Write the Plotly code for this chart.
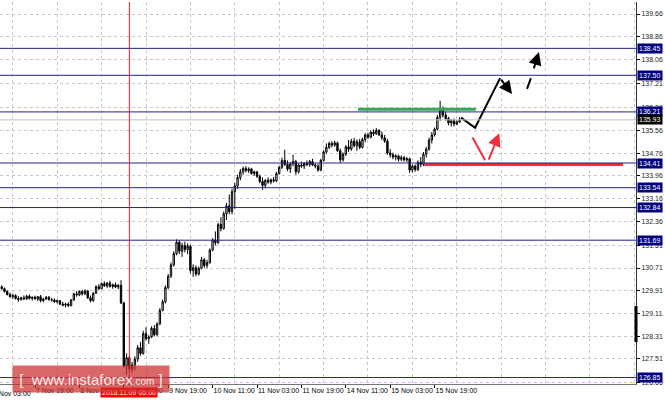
import plotly.graph_objects as go

# ---------------- data ----------------
opens = [
    130.05, 129.98, 129.88, 129.78, 129.70, 129.74, 129.64, 129.60, 129.66, 129.62,
    129.72, 129.64, 129.68, 129.62, 129.70, 129.56, 129.62, 129.68, 129.60, 129.58,
    129.52, 129.56, 129.44, 129.40, 129.44, 129.38, 129.58, 129.80, 129.76, 129.88,
    129.80, 129.90, 129.66, 129.56, 129.82, 130.05, 129.98, 130.16, 130.08, 130.18,
    130.06, 130.12, 130.04, 130.10, 129.48, 127.26, 127.55, 127.15, 127.30, 127.50,
    127.90, 127.70, 128.40, 128.22, 128.28, 128.58, 128.36, 128.74, 129.22, 129.52,
    130.02, 130.42, 130.82, 131.22, 131.62, 131.30, 131.50, 131.36, 131.48, 130.62,
    130.72, 130.50, 130.70, 131.00, 130.80, 130.90, 131.34, 131.70, 131.60, 132.24,
    132.10, 132.62, 132.90, 132.70, 133.40, 133.60, 133.90, 134.10, 134.22, 134.14,
    134.20, 134.04, 134.10, 133.94, 133.76, 133.62, 133.80, 133.74, 133.82, 133.78,
    134.04, 134.26, 134.50, 134.36, 134.20, 134.38, 134.46, 134.10, 134.34, 134.30,
    134.40, 134.36, 134.46, 134.34, 134.30, 134.16, 134.50, 134.80, 134.96, 135.10,
    135.04, 135.12, 134.84, 134.52, 134.72, 134.98, 134.90, 135.18, 135.02, 135.16,
    134.96, 135.24, 135.40, 135.32, 135.50, 135.44, 135.56, 135.40, 135.30, 135.18,
    134.76, 134.70, 134.62, 134.66, 134.54, 134.60, 134.52, 134.56, 134.16, 134.30,
    134.18, 134.44, 134.36, 134.72, 134.90, 135.22, 135.40, 135.60, 136.02, 136.30,
    136.10, 135.98, 135.82, 135.90, 135.78, 135.86,
]
highs = [
    130.10, 130.02, 129.92, 129.84, 129.80, 129.78, 129.72, 129.70, 129.74, 129.76,
    129.78, 129.70, 129.74, 129.72, 129.76, 129.66, 129.72, 129.72, 129.66, 129.64,
    129.60, 129.58, 129.52, 129.48, 129.50, 129.62, 129.84, 129.90, 129.92, 129.94,
    129.96, 129.94, 129.74, 129.86, 130.10, 130.14, 130.20, 130.24, 130.22, 130.26,
    130.16, 130.20, 130.14, 130.28, 129.52, 127.70, 127.62, 127.40, 127.60, 128.00,
    128.10, 128.50, 128.62, 128.34, 128.66, 128.70, 128.80, 129.30, 129.60, 130.10,
    130.50, 130.90, 131.30, 131.72, 131.70, 131.60, 131.64, 131.58, 131.52, 130.84,
    130.80, 130.76, 131.10, 131.06, 131.00, 131.40, 131.76, 132.00, 132.30, 132.50,
    132.70, 133.00, 133.30, 133.50, 133.70, 134.00, 134.20, 134.28, 134.30, 134.26,
    134.24, 134.14, 134.12, 134.00, 133.90, 133.84, 133.90, 133.86, 133.92, 134.10,
    134.30, 134.60, 134.88, 134.50, 134.44, 134.70, 134.52, 134.40, 134.46, 134.44,
    134.50, 134.52, 134.56, 134.40, 134.38, 134.56, 134.86, 135.10, 135.16, 135.18,
    135.20, 135.16, 134.92, 134.78, 135.04, 135.22, 135.26, 135.30, 135.24, 135.26,
    135.30, 135.46, 135.48, 135.56, 135.60, 135.64, 135.60, 135.52, 135.40, 135.26,
    134.90, 134.78, 134.72, 134.70, 134.68, 134.66, 134.62, 134.60, 134.36, 134.36,
    134.50, 134.62, 134.80, 134.98, 135.30, 135.50, 135.66, 136.10, 136.60, 136.40,
    136.22, 136.04, 135.96, 135.98, 135.92, 136.02,
]
lows = [
    129.95, 129.85, 129.74, 129.66, 129.62, 129.60, 129.52, 129.56, 129.58, 129.58,
    129.60, 129.56, 129.60, 129.55, 129.50, 129.50, 129.58, 129.56, 129.52, 129.48,
    129.46, 129.40, 129.36, 129.32, 129.34, 129.36, 129.56, 129.70, 129.72, 129.74,
    129.76, 129.62, 129.50, 129.52, 129.80, 129.94, 129.96, 130.04, 130.00, 130.02,
    129.98, 130.00, 129.96, 129.44, 127.20, 126.95, 127.05, 127.02, 127.10, 127.40,
    127.62, 127.66, 128.16, 128.04, 128.24, 128.30, 128.32, 128.70, 129.18, 129.46,
    129.96, 130.36, 130.76, 131.16, 131.20, 131.10, 131.26, 131.20, 130.52, 130.40,
    130.42, 130.44, 130.66, 130.72, 130.70, 130.86, 131.30, 131.50, 131.56, 132.00,
    132.06, 132.40, 132.60, 132.60, 132.80, 133.50, 133.80, 134.00, 134.08, 134.06,
    134.00, 133.96, 133.88, 133.70, 133.46, 133.52, 133.68, 133.66, 133.72, 133.74,
    134.00, 134.20, 134.30, 134.12, 134.06, 134.30, 134.00, 134.04, 134.24, 134.20,
    134.30, 134.28, 134.30, 134.22, 134.10, 134.12, 134.46, 134.74, 134.90, 134.96,
    134.98, 134.80, 134.42, 134.46, 134.66, 134.80, 134.84, 134.96, 134.84, 134.90,
    134.92, 135.14, 135.26, 135.28, 135.36, 135.40, 135.36, 135.22, 135.12, 134.70,
    134.60, 134.54, 134.50, 134.46, 134.48, 134.46, 134.44, 134.06, 134.08, 134.10,
    134.12, 134.26, 134.30, 134.60, 134.84, 135.10, 135.34, 135.56, 135.90, 136.02,
    135.90, 135.74, 135.70, 135.70, 135.74, 135.82,
]
closes = [
    129.98, 129.88, 129.78, 129.70, 129.74, 129.64, 129.60, 129.66, 129.62, 129.72,
    129.64, 129.68, 129.62, 129.70, 129.56, 129.62, 129.68, 129.60, 129.58, 129.52,
    129.56, 129.44, 129.40, 129.44, 129.38, 129.58, 129.80, 129.76, 129.88, 129.80,
    129.90, 129.66, 129.56, 129.82, 130.05, 129.98, 130.16, 130.08, 130.18, 130.06,
    130.12, 130.04, 130.10, 129.48, 127.26, 127.55, 127.15, 127.30, 127.50, 127.90,
    127.70, 128.40, 128.22, 128.28, 128.58, 128.36, 128.74, 129.22, 129.52, 130.02,
    130.42, 130.82, 131.22, 131.62, 131.30, 131.50, 131.36, 131.48, 130.62, 130.72,
    130.50, 130.70, 131.00, 130.80, 130.90, 131.34, 131.70, 131.60, 132.24, 132.10,
    132.62, 132.90, 132.70, 133.40, 133.60, 133.90, 134.10, 134.22, 134.14, 134.20,
    134.04, 134.10, 133.94, 133.76, 133.62, 133.80, 133.74, 133.82, 133.78, 134.04,
    134.26, 134.50, 134.36, 134.20, 134.38, 134.46, 134.10, 134.34, 134.30, 134.40,
    134.36, 134.46, 134.34, 134.30, 134.16, 134.50, 134.80, 134.96, 135.10, 135.04,
    135.12, 134.84, 134.52, 134.72, 134.98, 134.90, 135.18, 135.02, 135.16, 134.96,
    135.24, 135.40, 135.32, 135.50, 135.44, 135.56, 135.40, 135.30, 135.18, 134.76,
    134.70, 134.62, 134.66, 134.54, 134.60, 134.52, 134.56, 134.16, 134.30, 134.18,
    134.44, 134.36, 134.72, 134.90, 135.22, 135.40, 135.60, 136.02, 136.30, 136.10,
    135.98, 135.82, 135.90, 135.78, 135.86, 135.93,
]
bar_index = list(range(len(closes)))

y_tick_values = [139.66, 138.86, 138.06, 137.21, 136.36, 135.56, 134.76, 133.96, 133.16,
                 132.36, 131.51, 130.71, 129.91, 129.11, 128.31, 127.51, 126.66]
x_tick_bars = [12, 28, 44, 60, 76, 92, 108, 124, 140, 156]
x_tick_labels = ["7 Nov 19:00", "8 Nov 11:00", "9 Nov 03:00", "9 Nov 19:00", "10 Nov 11:00",
                 "11 Nov 03:00", "11 Nov 19:00", "14 Nov 11:00", "15 Nov 03:00", "15 Nov 19:00"]
clipped_label_bar = -4
clipped_label = "7 Nov 03:00"
grid_bars = list(range(4, 229, 16))

levels = [138.45, 137.50, 136.21, 134.41, 133.54, 132.84, 131.69, 126.85]
current_price = 135.93
marked_bar = 46
marked_label = "2018.11.09 05:00"

resistance_x = [128.4, 170.9]
resistance_y = [136.30, 136.30]
support_x = [152.2, 223.9]
support_y = [134.36, 134.36]

forecast_main_x = [165.5, 170.6, 179.6, 183.9]
forecast_main_y = [136.01, 135.65, 137.40, 136.84]
forecast_dash_x = [189.3, 190.7, 191.6, 193.6]
forecast_dash_y = [137.02, 137.40, 137.69, 138.32]
forecast_alt_x = [169.7, 174.2, 175.3, 179.3]
forecast_alt_y = [135.31, 134.51, 134.48, 135.46]

X_RANGE = [-0.613, 228.58]
Y_RANGE = [126.623, 140.083]

NAVY = "#22228c"
FONT = "Liberation Sans, Arial, sans-serif"

fig = go.Figure()
fig.add_trace(go.Candlestick(
    x=bar_index, open=opens, high=highs, low=lows, close=closes,
    increasing=dict(line=dict(color="black", width=1), fillcolor="white"),
    decreasing=dict(line=dict(color="black", width=1), fillcolor="black"),
    whiskerwidth=0, hoverinfo="skip", showlegend=False,
))

fig.add_trace(go.Scatter(x=resistance_x, y=resistance_y, mode="lines",
                         line=dict(color="#3aa655", width=3), hoverinfo="skip"))
fig.add_trace(go.Scatter(x=support_x, y=support_y, mode="lines",
                         line=dict(color="#f0303c", width=3), hoverinfo="skip"))
fig.add_trace(go.Scatter(x=forecast_main_x[:3], y=forecast_main_y[:3], mode="lines",
                         line=dict(color="black", width=2), hoverinfo="skip"))
fig.add_trace(go.Scatter(x=forecast_dash_x[:2], y=forecast_dash_y[:2], mode="lines",
                         line=dict(color="black", width=2), hoverinfo="skip"))
fig.add_trace(go.Scatter(x=forecast_alt_x[:2], y=forecast_alt_y[:2], mode="lines",
                         line=dict(color="#f0303c", width=2), hoverinfo="skip"))

arrow_common = dict(xref="x", yref="y", axref="x", ayref="y", text="", showarrow=True,
                    arrowhead=2, arrowsize=1.3, arrowwidth=2, standoff=0)
fig.add_annotation(x=forecast_main_x[3], y=forecast_main_y[3], ax=forecast_main_x[2],
                   ay=forecast_main_y[2], arrowcolor="black", **arrow_common)
fig.add_annotation(x=forecast_dash_x[3], y=forecast_dash_y[3], ax=forecast_dash_x[2],
                   ay=forecast_dash_y[2], arrowcolor="black", **arrow_common)
fig.add_annotation(x=forecast_alt_x[3], y=forecast_alt_y[3], ax=forecast_alt_x[2],
                   ay=forecast_alt_y[2], arrowcolor="#f0303c", **arrow_common)

for v in levels:
    fig.add_shape(type="line", xref="paper", x0=0, x1=1, yref="y", y0=v, y1=v,
                  line=dict(color=NAVY, width=1))
    fig.add_annotation(xref="paper", x=1, xanchor="left", xshift=1, yref="y", y=v,
                       yanchor="middle", text=f"{v:.2f}", showarrow=False,
                       bgcolor="#000080", font=dict(color="white", size=7, family=FONT),
                       borderpad=1)
fig.add_shape(type="line", xref="paper", x0=0, x1=1, yref="y", y0=current_price,
              y1=current_price, line=dict(color="#c0c0c0", width=1))
fig.add_annotation(xref="paper", x=1, xanchor="left", xshift=1, yref="y", y=current_price,
                   yanchor="middle", text=f"{current_price:.2f}", showarrow=False,
                   bgcolor="black", font=dict(color="white", size=7, family=FONT),
                   borderpad=1)

fig.add_shape(type="line", xref="x", x0=marked_bar, x1=marked_bar, yref="paper", y0=0, y1=1,
              line=dict(color="#e02020", width=1))
fig.add_annotation(xref="x", x=marked_bar, yref="paper", y=0, yanchor="top", yshift=-3,
                   text=marked_label, showarrow=False, bgcolor="#ff0000",
                   font=dict(color="white", size=7, family=FONT), borderpad=1)

fig.add_shape(type="line", xref="paper", x0=1, x1=1, yref="y", y0=128.10, y1=129.37,
              line=dict(color="black", width=3))

px_per_bar = 636 / (X_RANGE[1] - X_RANGE[0])
fig.add_annotation(xref="paper", x=0, xanchor="left",
                   xshift=(clipped_label_bar - X_RANGE[0]) * px_per_bar,
                   yref="paper", y=0, yanchor="top", yshift=-4, text=clipped_label,
                   showarrow=False, font=dict(color="black", size=7, family=FONT))

fig.add_annotation(xref="paper", x=0.143, yref="paper", y=0.014, xanchor="center",
                   yanchor="middle",
                   text="[  www.instaforex<span style='font-size:10px'>.com</span> ]",
                   showarrow=False, bgcolor="rgba(205,45,45,0.72)",
                   font=dict(color="rgba(255,255,255,0.9)", size=15, family=FONT),
                   width=156, height=26, borderpad=0)

fig.update_layout(
    width=665, height=401, margin=dict(l=0, r=29, t=2, b=17, autoexpand=False),
    paper_bgcolor="white", plot_bgcolor="white", showlegend=False,
    font=dict(family=FONT, size=7, color="black"),
)
fig.update_xaxes(
    range=X_RANGE, rangeslider_visible=False, automargin=False, tickangle=0,
    tickmode="array", tickvals=x_tick_bars,
    ticktext=x_tick_labels, ticks="outside", ticklen=3, tickcolor="black",
    ticklabelposition="outside right", showgrid=False, showline=True, linecolor="#777",
    linewidth=1, zeroline=False, tickfont=dict(size=7, color="black", family=FONT),
    minor=dict(tickmode="array", tickvals=grid_bars, showgrid=True, gridcolor="#c8c8c8",
               griddash="dot", gridwidth=1, ticks=""),
)
fig.update_yaxes(
    side="right", range=Y_RANGE, automargin=False, tickmode="array", tickvals=y_tick_values,
    ticktext=[f"{v:.2f}" for v in y_tick_values], ticks="outside", ticklen=3,
    tickcolor="black", showgrid=True, gridcolor="#c8c8c8", griddash="dot", gridwidth=1,
    showline=True, linecolor="#333", linewidth=1, zeroline=False,
    tickfont=dict(size=7, color="#222", family=FONT),
)

fig.write_html("out.html", config={"displayModeBar": False},
               post_script="document.body.style.margin='0px';")
